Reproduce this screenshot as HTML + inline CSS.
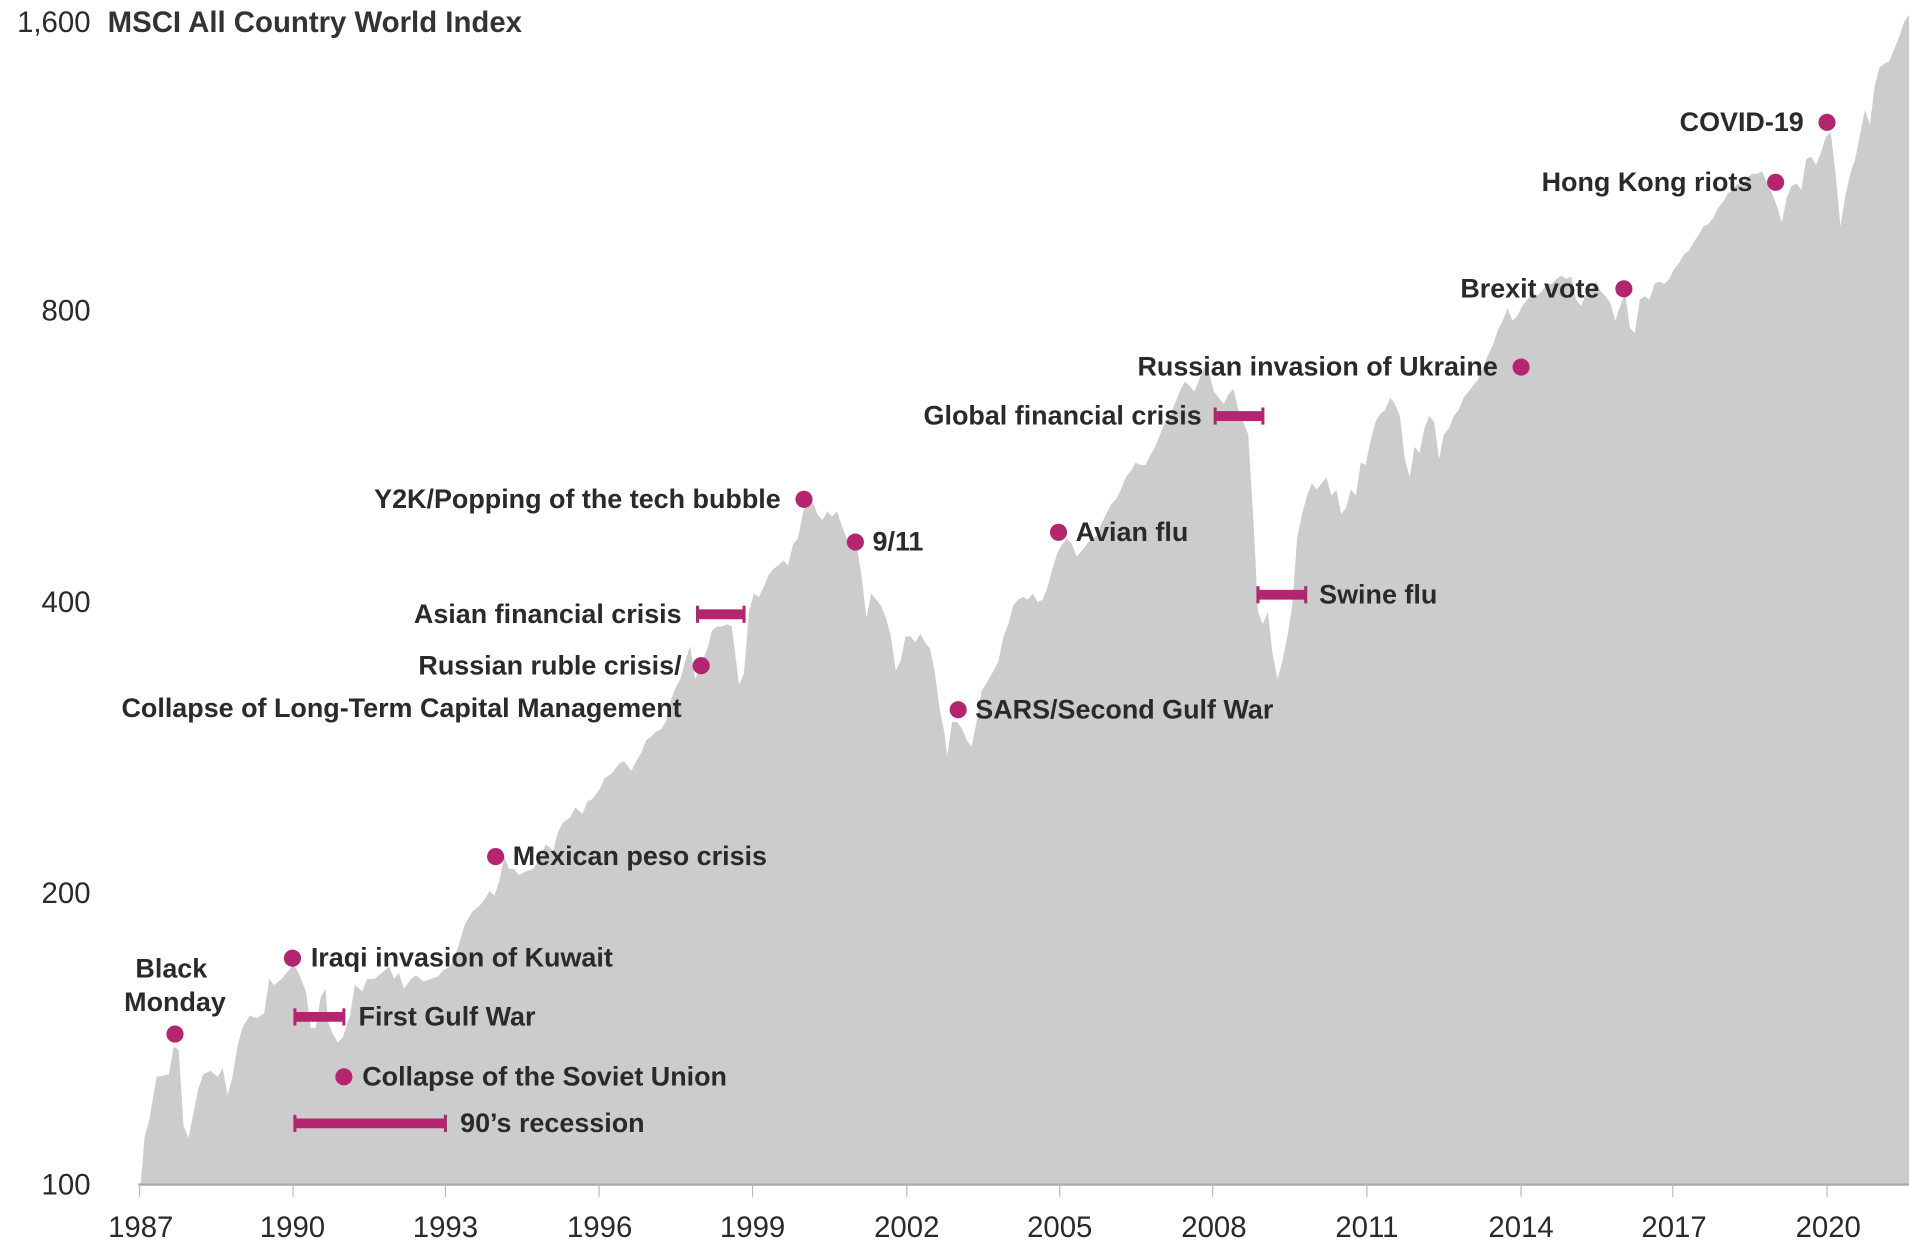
<!DOCTYPE html>
<html><head><meta charset="utf-8"><style>
html,body{margin:0;padding:0;background:#fff}
svg{display:block}
text{font-family:"Liberation Sans",sans-serif;fill:#2a2a2a}
.a{font-size:22px;font-weight:bold}
.t{font-size:24px;fill:#333}
.y{font-size:24px;fill:#444}
</style></head><body>
<svg width="1909" height="1251" viewBox="0 0 1560 1022.3" preserveAspectRatio="none">
<path fill="#cccccc" d="M115,968 L118,930 122,915 128,880 138,878 142,855 146,858 150,920 154,930 158,910 162,890 166,878 172,875 178,880 182,873 186,895 190,880 194,855 198,840 204,830 210,832 216,828 220,800 224,805 230,800 236,793 240,788 244,795 250,810 254,840 258,840 262,815 266,808 268,835 272,845 276,852 280,848 286,830 290,805 296,810 300,800 306,800 312,795 318,790 322,800 326,795 330,808 336,800 340,797 346,802 352,800 358,798 362,793 368,790 374,775 380,755 386,745 392,740 396,735 400,728 404,732 408,720 412,700 416,710 420,710 424,715 430,712 436,710 442,700 446,690 452,695 456,680 460,672 466,668 470,660 476,665 480,655 484,653 490,645 494,636 500,632 506,624 510,622 516,630 520,622 524,615 528,605 532,602 536,598 540,596 544,590 548,573 552,562 556,555 560,540 564,528 568,555 572,545 578,530 582,515 586,512 590,512 594,510 598,512 604,560 608,550 612,500 616,485 620,488 624,480 628,470 632,465 636,462 640,458 644,462 648,445 652,440 656,420 660,405 664,410 668,420 672,425 676,418 680,422 684,418 688,430 692,440 696,450 700,445 704,470 708,505 712,485 716,490 720,495 724,505 728,520 732,548 736,540 740,520 744,520 748,525 752,518 756,525 760,530 764,550 768,580 772,600 774,618 778,590 782,590 786,595 790,605 794,610 798,590 802,565 808,555 812,548 816,540 820,520 824,510 828,495 832,490 836,488 840,490 844,485 848,492 852,490 856,480 860,465 864,452 868,445 872,440 876,445 880,455 884,450 888,445 892,440 896,438 900,428 904,420 908,412 912,408 916,400 920,390 924,385 928,378 932,380 936,380 940,372 944,365 948,355 952,345 956,340 960,330 964,320 968,312 972,315 976,320 980,310 984,300 988,305 992,320 996,325 1000,330 1004,322 1008,318 1012,335 1016,345 1020,355 1024,420 1028,500 1032,510 1036,500 1040,535 1044,555 1048,540 1052,520 1056,495 1060,440 1064,420 1068,405 1072,395 1076,400 1080,395 1084,390 1088,405 1092,400 1096,420 1100,415 1104,400 1108,405 1112,378 1116,380 1120,360 1124,345 1128,338 1132,335 1136,325 1140,330 1144,340 1148,375 1152,390 1156,365 1160,370 1164,350 1168,340 1172,345 1176,375 1180,355 1184,350 1188,340 1192,335 1196,325 1200,320 1204,315 1208,310 1212,300 1216,290 1220,282 1224,270 1228,262 1232,252 1236,262 1240,258 1244,250 1248,245 1252,240 1256,242 1260,238 1264,232 1268,232 1272,228 1276,225 1280,228 1284,226 1288,245 1292,250 1296,240 1300,238 1304,230 1308,238 1312,242 1316,248 1320,262 1324,250 1328,240 1332,268 1336,272 1340,245 1344,242 1348,245 1352,232 1356,230 1360,232 1364,228 1368,220 1372,215 1376,208 1380,205 1384,198 1388,192 1392,185 1396,183 1400,178 1404,170 1408,165 1412,158 1416,155 1420,150 1424,152 1428,145 1432,142 1436,142 1440,140 1444,150 1448,158 1452,168 1456,182 1460,162 1464,152 1468,150 1472,155 1476,130 1480,128 1484,135 1488,125 1492,112 1496,108 1500,142 1504,185 1508,160 1512,142 1516,130 1520,110 1524,90 1528,102 1532,70 1536,55 1540,52 1544,50 1548,40 1552,30 1556,18 1560,12 L1560,968 Z"/>
<line x1="113" y1="968" x2="1560" y2="968" stroke="#aaa" stroke-width="2"/>
<g stroke="#bbb" stroke-width="1">
<line x1="114" y1="968" x2="114" y2="978"/><line x1="239.5" y1="968" x2="239.5" y2="978"/><line x1="364" y1="968" x2="364" y2="978"/><line x1="489.5" y1="968" x2="489.5" y2="978"/><line x1="615" y1="968" x2="615" y2="978"/><line x1="741" y1="968" x2="741" y2="978"/><line x1="866" y1="968" x2="866" y2="978"/><line x1="991" y1="968" x2="991" y2="978"/><line x1="1117" y1="968" x2="1117" y2="978"/><line x1="1243" y1="968" x2="1243" y2="978"/><line x1="1367" y1="968" x2="1367" y2="978"/><line x1="1493" y1="968" x2="1493" y2="978"/>
</g>
<g class="t" text-anchor="middle">
<text x="115" y="1011">1987</text><text x="239" y="1011">1990</text><text x="364" y="1011">1993</text><text x="490" y="1011">1996</text><text x="615" y="1011">1999</text><text x="741" y="1011">2002</text><text x="866" y="1011">2005</text><text x="992" y="1011">2008</text><text x="1117" y="1011">2011</text><text x="1243" y="1011">2014</text><text x="1368" y="1011">2017</text><text x="1494" y="1011">2020</text>
</g>
<g class="y" text-anchor="end">
<text x="74" y="976">100</text><text x="74" y="738">200</text><text x="74" y="500">400</text><text x="74" y="262">800</text><text x="74" y="26">1,600</text>
</g>
<text x="88" y="26" style="font-size:24px;font-weight:bold;fill:#333">MSCI All Country World Index</text>
<g fill="#b5246f">
<circle cx="143" cy="845" r="7"/><circle cx="239" cy="783" r="7"/><circle cx="281" cy="880" r="7"/><circle cx="405" cy="700" r="7"/><circle cx="573" cy="544" r="7"/><circle cx="657" cy="408" r="7"/><circle cx="699" cy="443" r="7"/><circle cx="783" cy="580" r="7"/><circle cx="865" cy="435" r="7"/><circle cx="1243" cy="300" r="7"/><circle cx="1327" cy="236" r="7"/><circle cx="1451" cy="149" r="7"/><circle cx="1493" cy="100" r="7"/>
</g>
<g stroke="#b5246f">
<line x1="241" y1="831" x2="281" y2="831" stroke-width="8"/><line x1="241" y1="824" x2="241" y2="838" stroke-width="2.5"/><line x1="281" y1="824" x2="281" y2="838" stroke-width="2.5"/>
<line x1="241" y1="918" x2="364" y2="918" stroke-width="8"/><line x1="241" y1="911" x2="241" y2="925" stroke-width="2.5"/><line x1="364" y1="911" x2="364" y2="925" stroke-width="2.5"/>
<line x1="570" y1="502" x2="608" y2="502" stroke-width="8"/><line x1="570" y1="495" x2="570" y2="509" stroke-width="2.5"/><line x1="608" y1="495" x2="608" y2="509" stroke-width="2.5"/>
<line x1="993" y1="340" x2="1032" y2="340" stroke-width="8"/><line x1="993" y1="333" x2="993" y2="347" stroke-width="2.5"/><line x1="1032" y1="333" x2="1032" y2="347" stroke-width="2.5"/>
<line x1="1028" y1="486" x2="1067" y2="486" stroke-width="8"/><line x1="1028" y1="479" x2="1028" y2="493" stroke-width="2.5"/><line x1="1067" y1="479" x2="1067" y2="493" stroke-width="2.5"/>
</g>
<g class="a">
<text x="140" y="799" text-anchor="middle">Black</text>
<text x="143" y="826" text-anchor="middle">Monday</text>
<text x="254" y="790">Iraqi invasion of Kuwait</text>
<text x="293" y="838">First Gulf War</text>
<text x="296" y="887">Collapse of the Soviet Union</text>
<text x="376" y="925">90’s recession</text>
<text x="419" y="707">Mexican peso crisis</text>
<text x="557" y="509" text-anchor="end">Asian financial crisis</text>
<text x="557" y="551" text-anchor="end">Russian ruble crisis/</text>
<text x="557" y="586" text-anchor="end">Collapse of Long-Term Capital Management</text>
<text x="638" y="415" text-anchor="end">Y2K/Popping of the tech bubble</text>
<text x="713" y="450">9/11</text>
<text x="797" y="587">SARS/Second Gulf War</text>
<text x="879" y="442">Avian flu</text>
<text x="982" y="347" text-anchor="end">Global financial crisis</text>
<text x="1078" y="493">Swine flu</text>
<text x="1224" y="307" text-anchor="end">Russian invasion of Ukraine</text>
<text x="1307" y="243" text-anchor="end">Brexit vote</text>
<text x="1432" y="156" text-anchor="end">Hong Kong riots</text>
<text x="1474" y="107" text-anchor="end">COVID-19</text>
</g>
</svg>
</body></html>
